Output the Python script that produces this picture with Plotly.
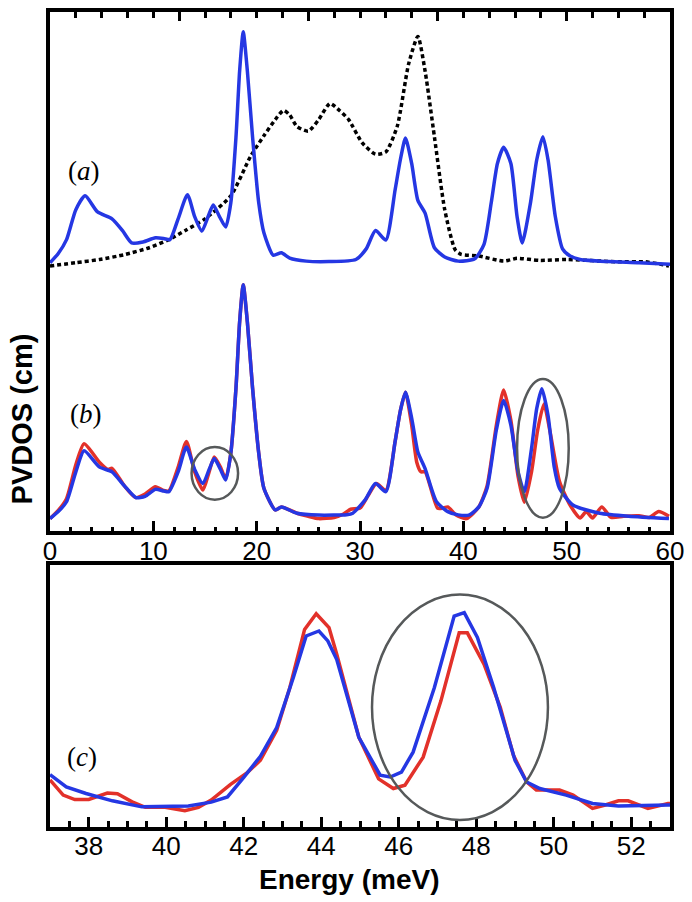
import plotly.graph_objects as go

# ---------------- data ----------------
# (a) calculated PVDOS (blue) and dotted reference curve
a_blue_E = [0, 0.8, 1.6, 2.5, 3.4, 4.6, 6.0, 7.0, 7.9, 9.0, 10.2, 11.0, 11.6, 12.4, 13.3, 14.0, 14.7,
            15.3, 15.8, 16.4, 17.0, 17.5, 18.0, 18.35, 18.7, 19.1, 19.6, 20.2, 20.7, 21.6, 22.4, 23.2,
            24.8, 27.0, 29.6, 30.6, 31.5, 32.5, 33.4, 33.9, 34.4, 35.0, 35.6, 36.3, 37.2, 38.2, 39.5,
            41.1, 42.0, 42.7, 43.3, 43.9, 44.6, 45.2, 45.7, 46.5, 47.1, 47.7, 48.2, 48.9, 49.6, 50.3,
            51.3, 54.0, 57.0, 60.0]
a_blue_V = [0.0, 0.04, 0.10, 0.23, 0.29, 0.22, 0.19, 0.14, 0.086, 0.09, 0.108, 0.105, 0.10, 0.19, 0.295,
            0.2, 0.137, 0.2, 0.25, 0.2, 0.155, 0.26, 0.546, 0.83, 1.0, 0.83, 0.546, 0.26, 0.13, 0.033,
            0.043, 0.02, 0.007, 0.005, 0.014, 0.06, 0.14, 0.098, 0.316, 0.445, 0.54, 0.43, 0.27, 0.215,
            0.065, 0.025, 0.007, 0.017, 0.08, 0.26, 0.43, 0.5, 0.43, 0.2, 0.086, 0.26, 0.445, 0.546,
            0.445, 0.2, 0.06, 0.03, 0.014, 0.005, 0.0, -0.007]

a_dot_E = [0, 2.5, 4.8, 7.2, 9.6, 11.5, 13.1, 15.0, 17.5, 19.4, 20.7, 21.8, 22.6, 23.2, 23.9, 25.0,
           26.0, 27.1, 28.0, 28.9, 30.2, 31.5, 32.5, 33.6, 34.7, 35.6, 36.3, 37.2, 38.2, 39.2, 39.8,
           41.4, 43.9, 45.2, 47.4, 50.0, 54.8, 57.6, 59.9]
a_dot_V = [-0.014, 0.0, 0.014, 0.035, 0.065, 0.1, 0.14, 0.19, 0.29, 0.46, 0.55, 0.62, 0.66, 0.64, 0.59,
           0.57, 0.62, 0.69, 0.66, 0.62, 0.52, 0.47, 0.48, 0.59, 0.86, 0.98, 0.83, 0.546, 0.23, 0.057,
           0.036, 0.03, 0.007, 0.019, 0.01, 0.014, 0.004, 0.004, -0.014]

# (b) calculated (blue) vs experimental (red)
b_blue_E = [0, 0.8, 1.6, 2.5, 3.3, 4.8, 6.0, 7.2, 8.3, 9.2, 10.2, 11.0, 11.5, 12.4, 13.2, 14.0, 14.8,
            15.4, 15.9, 16.5, 17.0, 17.5, 18.0, 18.35, 18.7, 19.1, 19.6, 20.2, 20.7, 21.8, 22.4, 23.9,
            26.0, 28.7, 29.3, 30.5, 31.5, 32.5, 33.4, 33.9, 34.4, 35.0, 35.6, 36.3, 37.4, 38.5, 39.5,
            40.6, 41.5, 42.3, 43.2, 43.9, 44.6, 45.3, 45.9, 46.6, 47.1, 47.6, 48.2, 48.8, 49.3, 50.6,
            53.2, 56.0, 59.9]
b_blue_V = [0.0, 0.03, 0.072, 0.2, 0.29, 0.22, 0.2, 0.14, 0.09, 0.095, 0.125, 0.118, 0.115, 0.2, 0.306,
            0.21, 0.15, 0.21, 0.257, 0.21, 0.165, 0.28, 0.56, 0.84, 1.0, 0.84, 0.56, 0.28, 0.13, 0.037,
            0.05, 0.023, 0.015, 0.017, 0.023, 0.08, 0.15, 0.115, 0.33, 0.46, 0.54, 0.43, 0.285, 0.214,
            0.072, 0.03, 0.016, 0.016, 0.05, 0.13, 0.38, 0.505, 0.40, 0.2, 0.115, 0.3, 0.47, 0.555,
            0.44, 0.22, 0.13, 0.058, 0.023, 0.01, 0.0]

b_red_E = [0, 0.8, 1.6, 2.5, 3.3, 4.8, 5.6, 6.0, 7.2, 8.3, 9.2, 10.2, 11.0, 11.5, 12.4, 13.2, 14.0,
           14.8, 15.4, 15.9, 16.5, 17.0, 17.5, 18.0, 18.35, 18.7, 19.1, 19.6, 20.2, 20.7, 21.8, 22.4,
           23.9, 25.0, 26.0, 27.5, 28.4, 29.1, 30.0, 30.8, 31.6, 32.5, 33.4, 33.9, 34.4, 35.0, 35.5,
           35.9, 36.3, 37.5, 38.0, 38.5, 39.3, 40.3, 41.5, 42.3, 43.2, 43.9, 44.6, 45.3, 45.9, 46.6,
           47.2, 47.8, 48.4, 49.3, 50.3, 51.3, 51.9, 52.5, 53.4, 54.3, 55.5, 57.0, 58.0, 58.9, 59.9]
b_red_V = [0.0, 0.035, 0.085, 0.23, 0.32, 0.24, 0.21, 0.215, 0.14, 0.09, 0.105, 0.136, 0.12, 0.118,
           0.22, 0.33, 0.2, 0.122, 0.2, 0.264, 0.22, 0.17, 0.28, 0.56, 0.84, 1.0, 0.84, 0.56, 0.28,
           0.13, 0.037, 0.05, 0.023, 0.01, 0.0, 0.005, 0.02, 0.04, 0.045, 0.1, 0.15, 0.12, 0.33, 0.46,
           0.54, 0.40, 0.24, 0.2, 0.2, 0.045, 0.045, 0.05, 0.015, 0.0, 0.05, 0.14, 0.40, 0.55, 0.42,
           0.18, 0.07, 0.2, 0.38, 0.49, 0.37, 0.16, 0.06, 0.003, 0.03, 0.003, 0.05, 0.005, 0.01, 0.012,
           0.005, 0.03, 0.01]

# (c) zoom on 37-53 meV
c_red_E = [37.0, 37.34, 37.64, 38.0, 38.48, 38.74, 39.12, 39.46, 39.97, 40.48, 40.83, 41.16, 41.66,
           42.09, 42.43, 42.85, 43.19, 43.57, 43.87, 44.2, 44.4, 44.97, 45.48, 45.86, 46.16, 46.63,
           47.09, 47.56, 47.77, 48.2, 48.62, 48.96, 49.3, 49.55, 49.8, 50.15, 50.5, 51.0, 51.33, 51.67,
           51.92, 52.43, 52.95, 53.0]
c_red_V = [0.18, 0.122, 0.105, 0.105, 0.13, 0.127, 0.096, 0.075, 0.075, 0.062, 0.075, 0.103, 0.163,
           0.208, 0.255, 0.369, 0.533, 0.755, 0.815, 0.762, 0.66, 0.343, 0.184, 0.147, 0.16, 0.267,
           0.483, 0.742, 0.742, 0.622, 0.457, 0.274, 0.172, 0.141, 0.141, 0.141, 0.122, 0.071, 0.084,
           0.1, 0.1, 0.071, 0.09, 0.09]
c_blue_E = [37.0, 37.42, 37.93, 38.61, 39.37, 39.97, 40.57, 41.16, 41.58, 42.0, 42.43, 42.85, 43.28,
            43.61, 43.94, 44.17, 44.4, 44.97, 45.52, 45.78, 46.07, 46.37, 46.92, 47.43, 47.69, 48.03,
            48.45, 49.0, 49.3, 49.64, 50.32, 51.0, 51.67, 52.95, 53.0]
c_blue_V = [0.2, 0.153, 0.128, 0.1, 0.077, 0.077, 0.08, 0.095, 0.115, 0.19, 0.27, 0.38, 0.571, 0.73,
            0.749, 0.711, 0.64, 0.343, 0.198, 0.191, 0.21, 0.286, 0.533, 0.806, 0.819, 0.724, 0.533,
            0.255, 0.172, 0.147, 0.122, 0.09, 0.08, 0.084, 0.084]

# highlighted regions (x0, x1, y0, y1) in data units
b_circles = [(13.7, 18.2, 0.081, 0.306), (45.2, 50.2, 0.004, 0.597)]
c_circle = (45.31, 49.85, 0.027, 0.888)

top_ticks = [0, 10, 20, 30, 40, 50, 60]
c_ticks = [38, 40, 42, 44, 46, 48, 50, 52]

BLUE = "#2537e3"
RED = "#e2312a"
GRAY = "#56595a"
FONT = "Liberation Sans"

fig = go.Figure()
fig.add_trace(go.Scatter(x=a_dot_E, y=a_dot_V, xaxis="x3", yaxis="y3", mode="lines",
                         line=dict(color="black", width=3.5, dash="4px,3px", shape="spline", smoothing=0.6)))
fig.add_trace(go.Scatter(x=a_blue_E, y=a_blue_V, xaxis="x3", yaxis="y3", mode="lines",
                         line=dict(color=BLUE, width=3.5, shape="spline", smoothing=0.6)))
fig.add_trace(go.Scatter(x=b_red_E, y=b_red_V, mode="lines",
                         line=dict(color=RED, width=3.5, shape="spline", smoothing=0.6)))
fig.add_trace(go.Scatter(x=b_blue_E, y=b_blue_V, mode="lines",
                         line=dict(color=BLUE, width=3.5, shape="spline", smoothing=0.6)))
fig.add_trace(go.Scatter(x=c_red_E, y=c_red_V, xaxis="x2", yaxis="y2", mode="lines",
                         line=dict(color=RED, width=3.5)))
fig.add_trace(go.Scatter(x=c_blue_E, y=c_blue_V, xaxis="x2", yaxis="y2", mode="lines",
                         line=dict(color=BLUE, width=3.5)))

for (x0, x1, y0, y1) in b_circles:
    fig.add_shape(type="circle", xref="x", yref="y", x0=x0, x1=x1, y0=y0, y1=y1,
                  line=dict(color=GRAY, width=2.5))
fig.add_shape(type="circle", xref="x2", yref="y2", x0=c_circle[0], x1=c_circle[1],
              y0=c_circle[2], y1=c_circle[3], line=dict(color=GRAY, width=2.5))

tickfont = dict(family=FONT, size=26, color="black")
axis_common = dict(showgrid=False, zeroline=False, showline=True, linecolor="black", linewidth=3.5,
                   mirror=True)

fig.update_layout(
    width=692, height=902,
    margin=dict(l=50, r=13, t=8, b=75),
    paper_bgcolor="white", plot_bgcolor="white",
    showlegend=False,
    xaxis=dict(domain=[0, 1], anchor="y", range=[0, 60], tickvals=top_ticks,
               ticks="inside", ticklen=11, tickwidth=2.5, tickcolor="black", tickfont=tickfont,
               ticklabeloverflow="allow", ticklabelstandoff=-6,
               minor=dict(dtick=2, tick0=0, ticks="inside", ticklen=5, tickwidth=2.5, tickcolor="black"),
               **axis_common),
    yaxis=dict(domain=[0.3626, 1], anchor="x", range=[-0.055, 2.166], showticklabels=False,
               ticks="", **axis_common),
    xaxis3=dict(overlaying="x", side="top", anchor="y", range=[0, 60], tick0=0, dtick=12.5,
                ticks="inside", ticklen=9, tickwidth=2.5, tickcolor="black", showticklabels=False,
                showgrid=False, zeroline=False, showline=False,
                minor=dict(dtick=2.5, tick0=0, ticks="inside", ticklen=6, tickwidth=2.5, tickcolor="black")),
    yaxis3=dict(overlaying="y", anchor="x", range=[-1.164, 1.086], visible=False),
    xaxis2=dict(domain=[0, 1], anchor="y2", range=[37, 53], tickvals=c_ticks,
                ticks="inside", ticklen=10, tickwidth=2.5, tickcolor="black", tickfont=tickfont,
                ticklabeloverflow="allow", ticklabelstandoff=-7,
                minor=dict(dtick=0.5, tick0=37, ticks="inside", ticklen=6, tickwidth=2.5, tickcolor="black"),
                **axis_common),
    yaxis2=dict(domain=[0, 0.3211], anchor="x2", range=[0, 1], showticklabels=False, ticks="",
                **axis_common),
)

label_font = dict(family="Liberation Serif", size=27, color="black")
fig.add_annotation(x=0.0556, y=0.8046, xref="paper", yref="paper", text="(<i>a</i>)",
                   showarrow=False, font=label_font, xanchor="center", yanchor="middle")
fig.add_annotation(x=0.0588, y=0.5067, xref="paper", yref="paper", text="(<i>b</i>)",
                   showarrow=False, font=label_font, xanchor="center", yanchor="middle")
fig.add_annotation(x=0.0509, y=0.0855, xref="paper", yref="paper", text="(<i>c</i>)",
                   showarrow=False, font=label_font, xanchor="center", yanchor="middle")

fig.add_annotation(x=-0.0445, y=0.5006, xref="paper", yref="paper", text="<b>PVDOS (cm)</b>",
                   textangle=-90, showarrow=False, xanchor="center", yanchor="middle",
                   font=dict(family=FONT, size=29, color="black"))
fig.add_annotation(x=0.4825, y=-0.0647, xref="paper", yref="paper", text="<b>Energy (meV)</b>",
                   showarrow=False, xanchor="center", yanchor="middle",
                   font=dict(family=FONT, size=28, color="black"))

# remove the browser's default page margin so the figure sits at the window origin
fig.write_html("out.html", config={"displayModeBar": False},
               post_script="document.body.style.margin='0';")
